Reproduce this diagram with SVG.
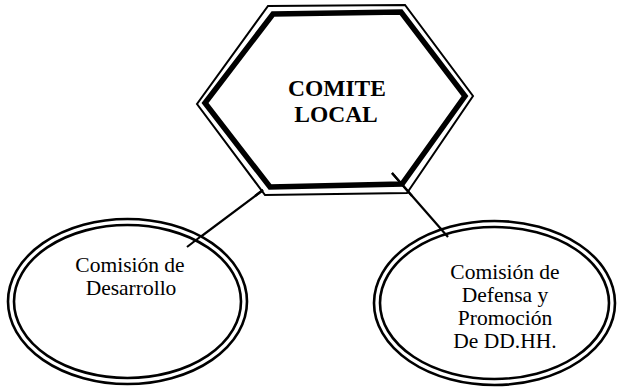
<svg xmlns="http://www.w3.org/2000/svg" width="617" height="387" viewBox="0 0 617 387">
<style>
.thin{fill:none;stroke:#000;stroke-width:2}
.thick{fill:none;stroke:#000;stroke-width:5.5;stroke-linejoin:miter}
.ell{fill:#fff;stroke:#000;stroke-width:2.6}
.ell2{fill:none;stroke:#000;stroke-width:2.6}
.conn{stroke:#000;stroke-width:2.2;fill:none}
.t{font-family:"Liberation Serif","Times New Roman",serif;font-size:21.5px;fill:#000;text-anchor:middle}
.tb{font-family:"Liberation Serif","Times New Roman",serif;font-size:23.5px;font-weight:bold;fill:#000;text-anchor:middle}
</style>
<rect width="617" height="387" fill="#fff"/>
<g id="connectors">
<line class="conn" x1="263" y1="190" x2="187" y2="247"/>
<line class="conn" x1="392" y1="173" x2="448" y2="237"/>
</g>
<g id="comite-local">
<polygon points="268,6 405,5 473,96 407,193 265,195 197,104" fill="#fff" class="thin"/>
<polygon points="273,14 401,12 465,96 402,184 270,187 205,103" class="thick"/>
<line class="conn" x1="392" y1="173" x2="412" y2="196"/>
<line class="conn" x1="263" y1="190" x2="255" y2="196"/>
<text class="tb" x="337" y="96">COMITE</text>
<text class="tb" x="336" y="122">LOCAL</text>
</g>
<g id="comision-desarrollo">
<ellipse class="ell" cx="127.5" cy="301.5" rx="119.5" ry="82.5"/>
<ellipse class="ell2" cx="127.5" cy="301.5" rx="113.5" ry="76.5"/>
<line class="conn" x1="200" y1="237" x2="187" y2="247"/>
<text class="t" x="130" y="272">Comisión de</text>
<text class="t" x="131" y="295">Desarrollo</text>
</g>
<g id="comision-ddhh">
<ellipse class="ell" cx="494.5" cy="303" rx="120.5" ry="82"/>
<ellipse class="ell2" cx="494.5" cy="303" rx="114.5" ry="76"/>
<line class="conn" x1="440" y1="228" x2="448" y2="237"/>
<text class="t" x="505" y="279">Comisión de</text>
<text class="t" x="505" y="302">Defensa y</text>
<text class="t" x="505" y="325">Promoción</text>
<text class="t" x="505" y="348">De DD.HH.</text>
</g>
</svg>
